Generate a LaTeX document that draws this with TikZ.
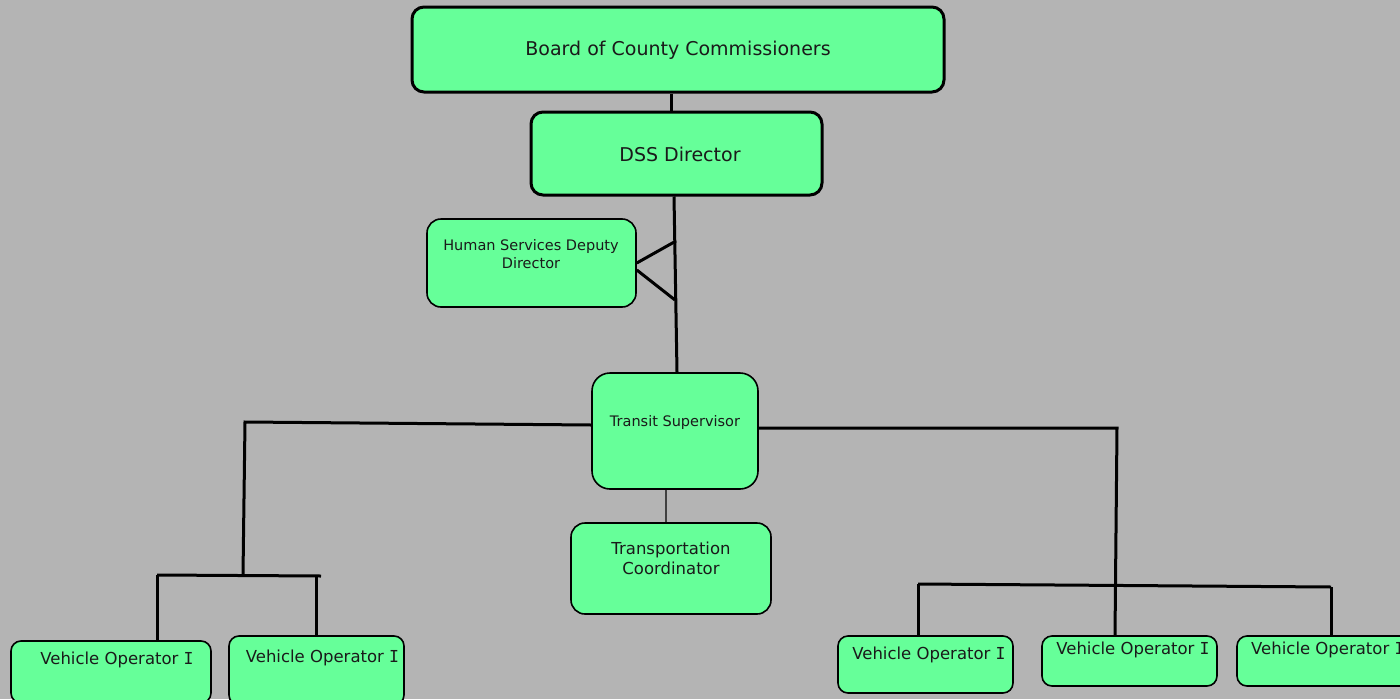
\documentclass[tikz,border=0pt]{standalone}
\usepackage{fontspec}
\setmainfont{DejaVu Sans}
\newfontfamily\serifI{DejaVu Sans Mono}
\newcommand{\vopI}{{\serifI I}}
\definecolor{bg}{HTML}{B4B4B4}
\definecolor{boxgreen}{HTML}{66FF99}
\definecolor{txt}{HTML}{1A1A1A}
\tikzset{
  box/.style={draw=black, fill=boxgreen, rounded corners=12pt, line width=1.6pt, inner sep=0pt},
  thickbox/.style={box, line width=3pt},
  conn/.style={draw=black, line width=3pt},
  thinconn/.style={draw=black!75, line width=1.5pt},
  bigtxt/.style={text=txt, font=\fontsize{19}{23}\selectfont, inner sep=0pt},
  smalltxt/.style={text=txt, font=\fontsize{14.5}{18}\selectfont, inner sep=0pt, align=center},
  midtxt/.style={text=txt, font=\fontsize{16.5}{20}\selectfont, inner sep=0pt, align=center},
}
\begin{document}
\begin{tikzpicture}[x=1pt,y=-1pt]
\fill[bg] (0,0) rectangle (1400,699);
\useasboundingbox (0,0) rectangle (1400,699);

% boxes
\node[thickbox, minimum width=532pt, minimum height=85pt] (board) at (678,49.5) {};
\node[thickbox, minimum width=291pt, minimum height=83pt] (dss) at (676.5,153.5) {};
\node[box, rounded corners=14pt, minimum width=209pt, minimum height=88pt] (hsd) at (531.5,263) {};
\node[box, rounded corners=18pt, minimum width=166pt, minimum height=116pt] (ts) at (675,431) {};
\node[box, rounded corners=14pt, minimum width=200pt, minimum height=91pt] (tc) at (671,568.5) {};
\node[box, rounded corners=10pt, minimum width=200pt, minimum height=62pt] (vo1) at (111,672) {};
\node[box, rounded corners=10pt, minimum width=175pt, minimum height=69pt] (vo2) at (316.5,670.5) {};
\node[box, rounded corners=10pt, minimum width=175pt, minimum height=57pt] (vo3) at (925.5,664.5) {};
\node[box, rounded corners=10pt, minimum width=175pt, minimum height=50pt] (vo4) at (1129.5,661) {};
\node[box, rounded corners=10pt, minimum width=175pt, minimum height=50pt] (vo5) at (1324.5,661) {};

% texts
\node[bigtxt] (boardt) at (678,50) {Board of County Commissioners};
\node[bigtxt] (dsst) at (680,154) {DSS Director};
\node[smalltxt] (hsdt) at (531,254) {Human Services Deputy\\Director};
\node[smalltxt] (tst) at (675,422) {Transit Supervisor};
\node[midtxt] (tct) at (671,558) {Transportation\\Coordinator};
\node[midtxt] (vo1t) at (117,660) {Vehicle Operator \vopI};
\node[midtxt] (vo2t) at (322.5,658) {Vehicle Operator \vopI};
\node[midtxt] (vo3t) at (929,655) {Vehicle Operator \vopI};
\node[midtxt] (vo4t) at (1133,650) {Vehicle Operator \vopI};
\node[midtxt, anchor=west] (vo5t) at (1251,650) {Vehicle Operator \vopI};

% junction coordinates
\coordinate (f1) at (676,241);
\coordinate (f2) at (675,300);
\coordinate (l1) at (245,422);
\coordinate (l2) at (243,575);
\coordinate (lb1) at (157,575);
\coordinate (lb2) at (321,576);
\coordinate (lb3) at (316,576);
\coordinate (r1) at (1117,428);
\coordinate (rb1) at (918,584);
\coordinate (rb2) at (1331,587);

% connectors
\draw[conn] ([xshift=-7pt]board.south) -- ([xshift=-5.5pt]dss.north);
\draw[conn] ([xshift=-2.5pt]dss.south) -- ([xshift=2pt]ts.north);
\draw[conn] (hsd.east) -- (f1);
\draw[conn] ([yshift=-7pt]hsd.east) -- (f2);
\draw[thinconn] ([xshift=-9pt]ts.south) -- ([xshift=-5pt]tc.north);

\draw[conn] ([yshift=6pt]ts.west) -- (l1) -- (l2);
\draw[conn] (lb1) -- (lb2);
\draw[conn] (lb1) -- (lb1 |- vo1.north);
\draw[conn] (lb3) -- (lb3 |- vo2.north);

\draw[conn] ([yshift=3pt]ts.east) -- (r1) -- ([xshift=-14.5pt]vo4.north);
\draw[conn] (rb1) -- (rb2);
\draw[conn] (rb1) -- (rb1 |- vo3.north);
\draw[conn] (rb2) -- (rb2 |- vo5.north);
\end{tikzpicture}
\end{document}
